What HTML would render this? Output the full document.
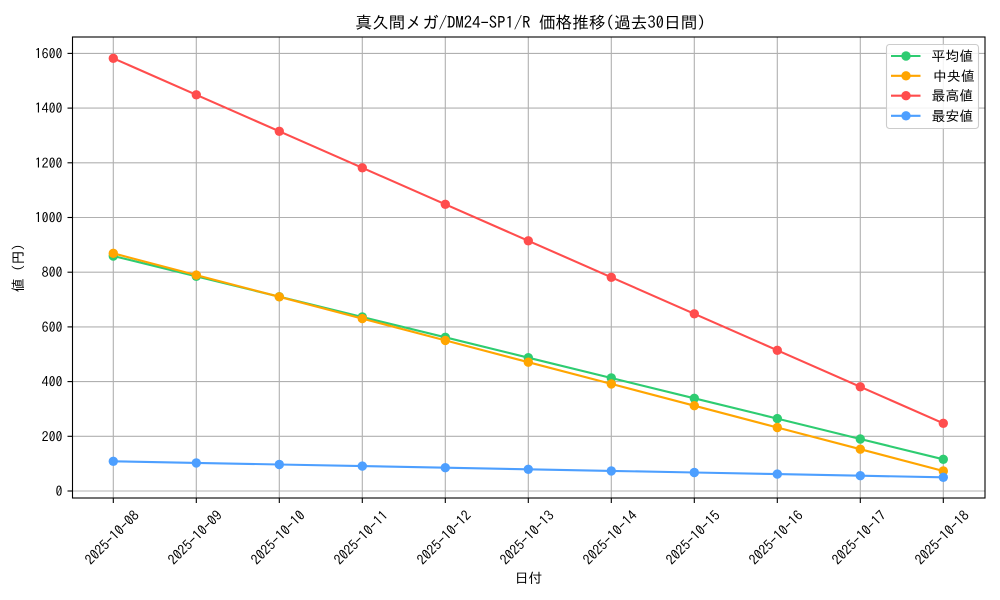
<!DOCTYPE html>
<html>
<head>
<meta charset="utf-8">
<style>
  html, body { margin: 0; padding: 0; background: #ffffff; }
  body { width: 1000px; height: 600px; overflow: hidden; }
  svg { display: block; }
  text { font-family: "IPAGothic", "Liberation Sans", "Noto Sans CJK JP", sans-serif; fill: #000; }
</style>
</head>
<body>
<svg width="1000" height="600" viewBox="0 0 1000 600" xmlns="http://www.w3.org/2000/svg">
  <rect x="0" y="0" width="1000" height="600" fill="#ffffff"/>

  <!-- grid -->
  <g stroke="#b0b0b0" stroke-width="1.1">
    <line x1="113.3" y1="37" x2="113.3" y2="498"/>
    <line x1="196.3" y1="37" x2="196.3" y2="498"/>
    <line x1="279.3" y1="37" x2="279.3" y2="498"/>
    <line x1="362.3" y1="37" x2="362.3" y2="498"/>
    <line x1="445.3" y1="37" x2="445.3" y2="498"/>
    <line x1="528.3" y1="37" x2="528.3" y2="498"/>
    <line x1="611.3" y1="37" x2="611.3" y2="498"/>
    <line x1="694.3" y1="37" x2="694.3" y2="498"/>
    <line x1="777.3" y1="37" x2="777.3" y2="498"/>
    <line x1="860.3" y1="37" x2="860.3" y2="498"/>
    <line x1="943.3" y1="37" x2="943.3" y2="498"/>

    <line x1="72.5" y1="491" x2="985" y2="491"/>
    <line x1="72.5" y1="436.3" x2="985" y2="436.3"/>
    <line x1="72.5" y1="381.6" x2="985" y2="381.6"/>
    <line x1="72.5" y1="326.9" x2="985" y2="326.9"/>
    <line x1="72.5" y1="272.2" x2="985" y2="272.2"/>
    <line x1="72.5" y1="217.5" x2="985" y2="217.5"/>
    <line x1="72.5" y1="162.8" x2="985" y2="162.8"/>
    <line x1="72.5" y1="108.1" x2="985" y2="108.1"/>
    <line x1="72.5" y1="53.4" x2="985" y2="53.4"/>
  </g>

  <!-- series -->
  <g fill="none" stroke-width="2.1" stroke-linejoin="round">
    <polyline stroke="#2ecc71" points="113.3,256 196.3,276.3 279.3,296.7 362.3,317 445.3,337.3 528.3,357.7 611.3,378 694.3,398.3 777.3,418.6 860.3,439 943.3,459.3"/>
  </g>
  <g fill="#2ecc71">
    <circle cx="113.3" cy="256" r="4.7"/><circle cx="196.3" cy="276.3" r="4.7"/><circle cx="279.3" cy="296.7" r="4.7"/><circle cx="362.3" cy="317" r="4.7"/><circle cx="445.3" cy="337.3" r="4.7"/><circle cx="528.3" cy="357.7" r="4.7"/><circle cx="611.3" cy="378" r="4.7"/><circle cx="694.3" cy="398.3" r="4.7"/><circle cx="777.3" cy="418.6" r="4.7"/><circle cx="860.3" cy="439" r="4.7"/><circle cx="943.3" cy="459.3" r="4.7"/>
  </g>

  <g fill="none" stroke-width="2.1" stroke-linejoin="round">
    <polyline stroke="#ffa500" points="113.3,253.3 196.3,275.1 279.3,296.8 362.3,318.6 445.3,340.4 528.3,362.2 611.3,383.9 694.3,405.7 777.3,427.5 860.3,449.2 943.3,471"/>
  </g>
  <g fill="#ffa500">
    <circle cx="113.3" cy="253.3" r="4.7"/><circle cx="196.3" cy="275.1" r="4.7"/><circle cx="279.3" cy="296.8" r="4.7"/><circle cx="362.3" cy="318.6" r="4.7"/><circle cx="445.3" cy="340.4" r="4.7"/><circle cx="528.3" cy="362.2" r="4.7"/><circle cx="611.3" cy="383.9" r="4.7"/><circle cx="694.3" cy="405.7" r="4.7"/><circle cx="777.3" cy="427.5" r="4.7"/><circle cx="860.3" cy="449.2" r="4.7"/><circle cx="943.3" cy="471" r="4.7"/>
  </g>

  <g fill="none" stroke-width="2.1" stroke-linejoin="round">
    <polyline stroke="#ff4d4d" points="113.3,58.3 196.3,94.8 279.3,131.3 362.3,167.8 445.3,204.3 528.3,240.8 611.3,277.3 694.3,313.8 777.3,350.3 860.3,386.8 943.3,423.3"/>
  </g>
  <g fill="#ff4d4d">
    <circle cx="113.3" cy="58.3" r="4.7"/><circle cx="196.3" cy="94.8" r="4.7"/><circle cx="279.3" cy="131.3" r="4.7"/><circle cx="362.3" cy="167.8" r="4.7"/><circle cx="445.3" cy="204.3" r="4.7"/><circle cx="528.3" cy="240.8" r="4.7"/><circle cx="611.3" cy="277.3" r="4.7"/><circle cx="694.3" cy="313.8" r="4.7"/><circle cx="777.3" cy="350.3" r="4.7"/><circle cx="860.3" cy="386.8" r="4.7"/><circle cx="943.3" cy="423.3" r="4.7"/>
  </g>

  <g fill="none" stroke-width="2.1" stroke-linejoin="round">
    <polyline stroke="#4d9fff" points="113.3,461.3 196.3,462.9 279.3,464.5 362.3,466.1 445.3,467.7 528.3,469.3 611.3,470.9 694.3,472.5 777.3,474.1 860.3,475.7 943.3,477.3"/>
  </g>
  <g fill="#4d9fff">
    <circle cx="113.3" cy="461.3" r="4.7"/><circle cx="196.3" cy="462.9" r="4.7"/><circle cx="279.3" cy="464.5" r="4.7"/><circle cx="362.3" cy="466.1" r="4.7"/><circle cx="445.3" cy="467.7" r="4.7"/><circle cx="528.3" cy="469.3" r="4.7"/><circle cx="611.3" cy="470.9" r="4.7"/><circle cx="694.3" cy="472.5" r="4.7"/><circle cx="777.3" cy="474.1" r="4.7"/><circle cx="860.3" cy="475.7" r="4.7"/><circle cx="943.3" cy="477.3" r="4.7"/>
  </g>

  <!-- axes frame -->
  <rect x="72.5" y="37" width="912.5" height="461" fill="none" stroke="#000" stroke-width="1.1"/>

  <!-- ticks -->
  <g stroke="#000" stroke-width="1.1">
    <line x1="113.3" y1="498" x2="113.3" y2="503"/>
    <line x1="196.3" y1="498" x2="196.3" y2="503"/>
    <line x1="279.3" y1="498" x2="279.3" y2="503"/>
    <line x1="362.3" y1="498" x2="362.3" y2="503"/>
    <line x1="445.3" y1="498" x2="445.3" y2="503"/>
    <line x1="528.3" y1="498" x2="528.3" y2="503"/>
    <line x1="611.3" y1="498" x2="611.3" y2="503"/>
    <line x1="694.3" y1="498" x2="694.3" y2="503"/>
    <line x1="777.3" y1="498" x2="777.3" y2="503"/>
    <line x1="860.3" y1="498" x2="860.3" y2="503"/>
    <line x1="943.3" y1="498" x2="943.3" y2="503"/>

    <line x1="67.5" y1="491" x2="72.5" y2="491"/>
    <line x1="67.5" y1="436.3" x2="72.5" y2="436.3"/>
    <line x1="67.5" y1="381.6" x2="72.5" y2="381.6"/>
    <line x1="67.5" y1="326.9" x2="72.5" y2="326.9"/>
    <line x1="67.5" y1="272.2" x2="72.5" y2="272.2"/>
    <line x1="67.5" y1="217.5" x2="72.5" y2="217.5"/>
    <line x1="67.5" y1="162.8" x2="72.5" y2="162.8"/>
    <line x1="67.5" y1="108.1" x2="72.5" y2="108.1"/>
    <line x1="67.5" y1="53.4" x2="72.5" y2="53.4"/>
  </g>

  <!-- y tick labels -->
  <g font-size="13.9" text-anchor="end" dominant-baseline="central">
    <text x="62.5" y="491">0</text>
    <text x="62.5" y="436.3">200</text>
    <text x="62.5" y="381.6">400</text>
    <text x="62.5" y="326.9">600</text>
    <text x="62.5" y="272.2">800</text>
    <text x="62.5" y="217.5">1000</text>
    <text x="62.5" y="162.8">1200</text>
    <text x="62.5" y="108.1">1400</text>
    <text x="62.5" y="53.4">1600</text>
  </g>

  <!-- x tick labels -->
  <g font-size="13.9" text-anchor="middle" dominant-baseline="central">
    <text transform="translate(112,537.5) rotate(-45)">2025-10-08</text>
    <text transform="translate(195,537.5) rotate(-45)">2025-10-09</text>
    <text transform="translate(278,537.5) rotate(-45)">2025-10-10</text>
    <text transform="translate(361,537.5) rotate(-45)">2025-10-11</text>
    <text transform="translate(444,537.5) rotate(-45)">2025-10-12</text>
    <text transform="translate(527,537.5) rotate(-45)">2025-10-13</text>
    <text transform="translate(610,537.5) rotate(-45)">2025-10-14</text>
    <text transform="translate(693,537.5) rotate(-45)">2025-10-15</text>
    <text transform="translate(776,537.5) rotate(-45)">2025-10-16</text>
    <text transform="translate(859,537.5) rotate(-45)">2025-10-17</text>
    <text transform="translate(942,537.5) rotate(-45)">2025-10-18</text>
  </g>

  <!-- axis labels -->
  <text x="528.5" y="578" font-size="13.9" text-anchor="middle" dominant-baseline="central">日付</text>
  <text transform="translate(18,268) rotate(-90)" font-size="13.9" text-anchor="middle" dominant-baseline="central">値 (円)</text>

  <!-- title -->
  <text x="530.5" y="23" font-size="16.7" text-anchor="middle" dominant-baseline="central">真久間メガ/DM24-SP1/R 価格推移(過去30日間)</text>

  <!-- legend -->
  <rect x="886.5" y="44.5" width="92" height="84" rx="3" ry="3" fill="#ffffff" fill-opacity="0.85" stroke="#cccccc" stroke-width="1.1"/>
  <g stroke-width="2.1">
    <line x1="891" y1="56" x2="920.5" y2="56" stroke="#2ecc71"/>
    <line x1="891" y1="75.8" x2="920.5" y2="75.8" stroke="#ffa500"/>
    <line x1="891" y1="95.7" x2="920.5" y2="95.7" stroke="#ff4d4d"/>
    <line x1="891" y1="115.8" x2="920.5" y2="115.8" stroke="#4d9fff"/>
  </g>
  <circle cx="906" cy="56" r="4.7" fill="#2ecc71"/>
  <circle cx="906" cy="75.8" r="4.7" fill="#ffa500"/>
  <circle cx="906" cy="95.7" r="4.7" fill="#ff4d4d"/>
  <circle cx="906" cy="115.8" r="4.7" fill="#4d9fff"/>
  <g font-size="13.9" dominant-baseline="central">
    <text x="931.5" y="56">平均値</text>
    <text x="933" y="75.8">中央値</text>
    <text x="931.5" y="95.7">最高値</text>
    <text x="931.5" y="115.8">最安値</text>
  </g>
</svg>
</body>
</html>
